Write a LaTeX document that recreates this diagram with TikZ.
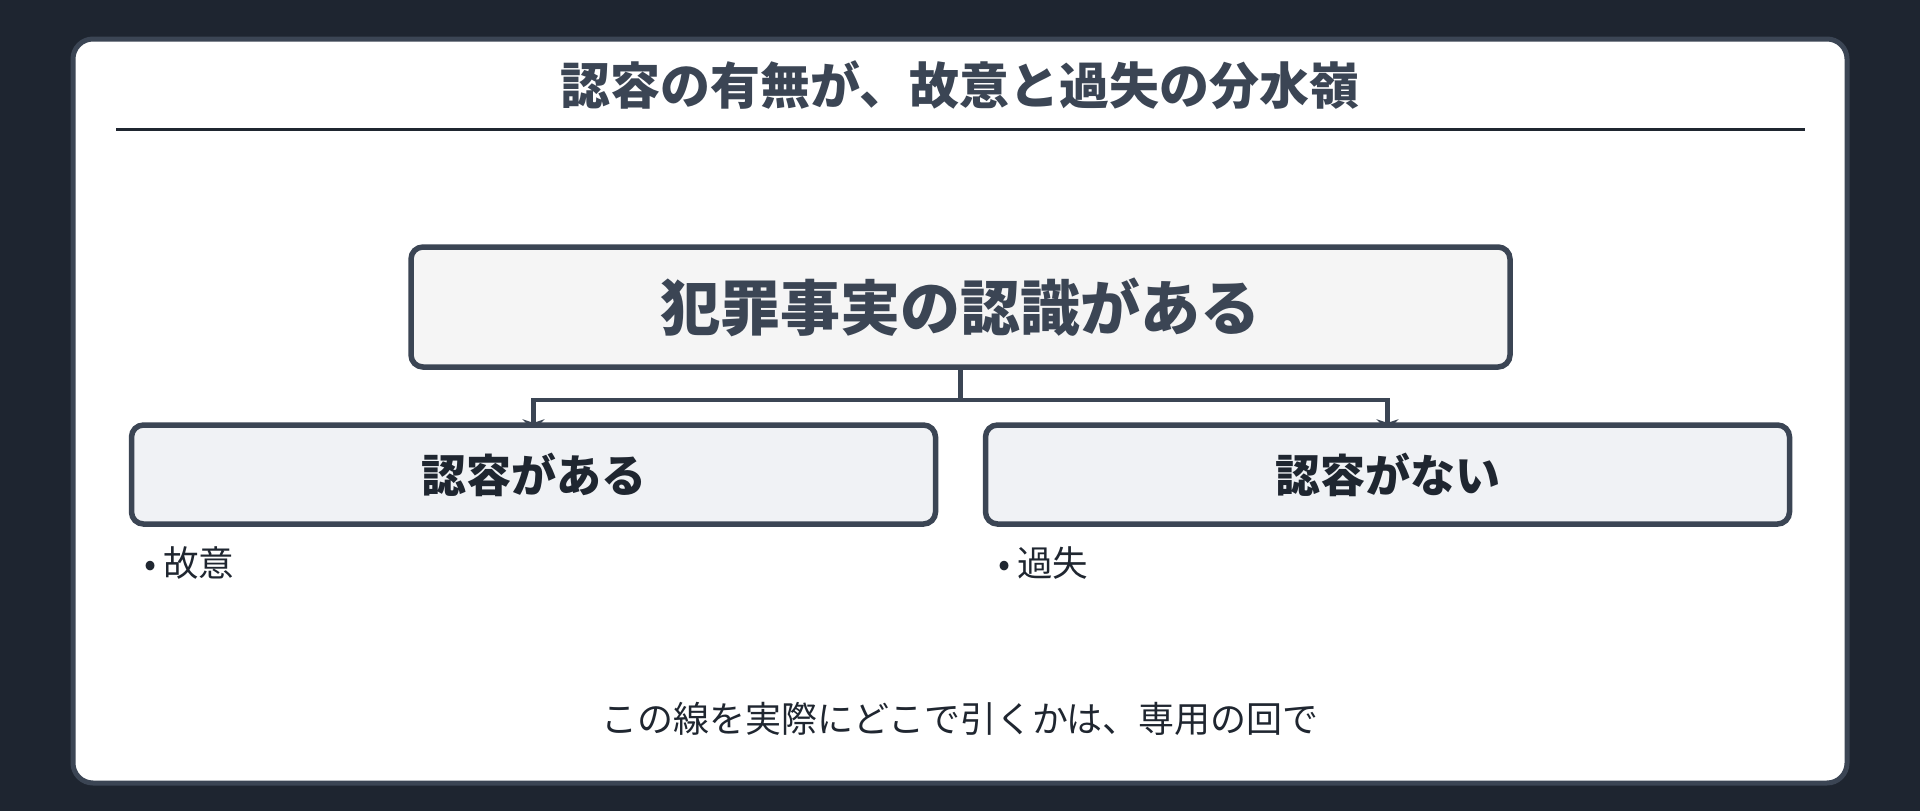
\documentclass[tikz,border=0pt]{standalone}
\usepackage{fontspec}
\setmainfont{Noto Sans CJK JP}
\usepackage{tikz}
\usetikzlibrary{positioning}
\usetikzlibrary{calc}
\usetikzlibrary{arrows.meta}
\definecolor{bgdark}{HTML}{1E2530}
\definecolor{edge}{HTML}{3B4554}
\definecolor{ink}{HTML}{1F2630}
\definecolor{factfill}{HTML}{F5F5F5}
\definecolor{choicefill}{HTML}{F0F2F5}
\pgfdeclarelayer{background}
\pgfsetlayers{background,main}

\begin{document}
\begin{tikzpicture}[x=1pt,y=-1pt,
    card/.style={draw=edge, line width=5pt, fill=white, rounded corners=20pt},
    factbox/.style={draw=edge, line width=5.5pt, fill=factfill, rounded corners=12pt,
        minimum width=1099pt, minimum height=120pt, text=edge,
        font=\fontsize{60pt}{72pt}\selectfont\bfseries},
    choicebox/.style={draw=edge, line width=5.5pt, fill=choicefill, rounded corners=12pt,
        minimum width=804pt, minimum height=99pt, text=ink,
        font=\fontsize{45pt}{54pt}\selectfont\bfseries},
    note/.style={anchor=west, inner sep=0pt, text=ink, font=\fontsize{35.5pt}{42pt}\selectfont},
    link/.style={draw=edge, line width=4.3pt, shorten >=-8pt,
        -{Stealth[length=11pt,width=22pt]}}]
            \begin{pgfonlayer}{background}
            \fill[bgdark] (0,0) rectangle (1920,811);
            \draw[card] (73,39) rectangle (1847,783);
            \end{pgfonlayer}
            \useasboundingbox (0,0) rectangle (1920,811);
            \node[text=edge, font=\fontsize{50pt}{60pt}\selectfont\bfseries] (title) at (960,85) {認容の有無が、故意と過失の分水嶺};
            \coordinate (ruleL) at (116,129);
            \coordinate (ruleR) at (1805,129);
            \draw[ink, line width=3pt] (ruleL) -- (ruleR);
            \node[factbox] (fact) at (960.5,307) {犯罪事実の認識がある};
            \node[choicebox] (yes) at (533.5,474.5) {認容がある};
            \node[choicebox] (no) at (1387.5,474.5) {認容がない};
            \begin{pgfonlayer}{background}
            \draw[link] (fact.south) -- ++(0,30) -| (yes.north);
            \draw[link] (fact.south) -- ++(0,30) -| (no.north);
            \end{pgfonlayer}
            \node[note] (yesnote) at (144,563) {•\hspace{7pt}故意};
            \node[note] (nonote) at (998,563) {•\hspace{7pt}過失};
            \node[text=ink, font=\fontsize{36pt}{43pt}\selectfont] (footer) at (960,719) {この線を実際にどこで引くかは、専用の回で};
        \end{tikzpicture}
\end{document}
